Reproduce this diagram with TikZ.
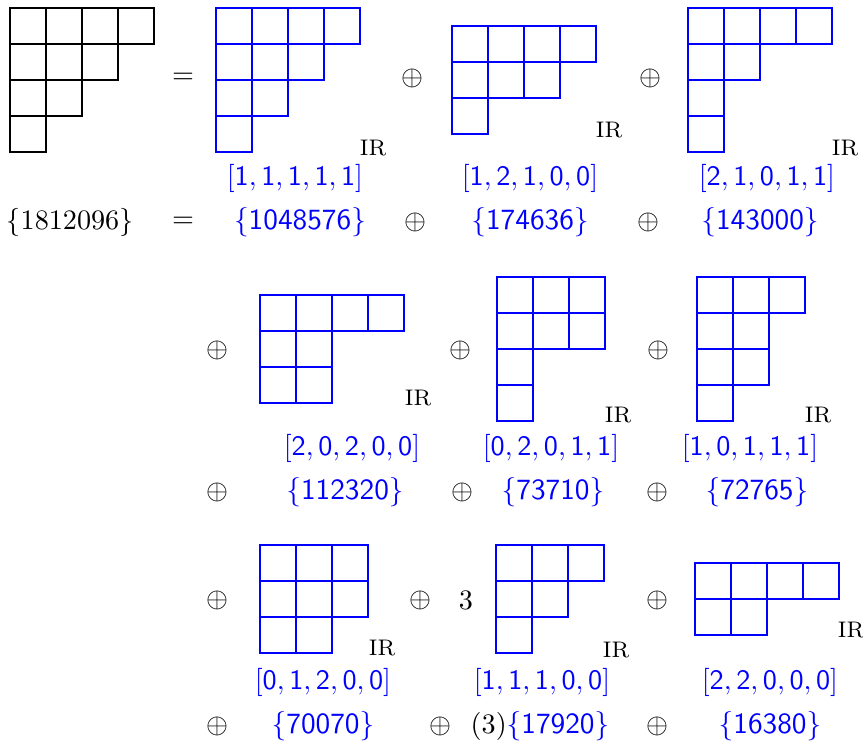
\documentclass[tikz,border=0pt]{standalone}
\usepackage{amsmath,amssymb}
\usepackage{xcolor}
\usepackage{tikz}
\usetikzlibrary{positioning}

% Young diagram: [colour] {left x}{top y}{row lengths}
\newcommand{\ydiag}[4][black]{%
  \foreach \rowlen [count=\row from 0] in {#4}
    \foreach \col in {1,...,\rowlen}
      \draw[#1] ({#2+36*(\col-1)},{#3+36*\row}) rectangle ++(36,36);
}

\begin{document}
\begin{tikzpicture}[x=0.355pt,y=-0.355pt,
  cellline/.style={line width=0.42pt},
  irrep/.style={cellline,draw=blue},
  irlab/.style={font=\footnotesize,inner sep=0pt},
  wlab/.style={text=blue,inner sep=0pt},
  dimlab/.style={text=blue,font=\fontsize{10.4}{12}\selectfont\sffamily,inner sep=0pt},
  oper/.style={inner sep=0pt}]
\useasboundingbox (0,0) rectangle (863,740);

% Diagrams
\ydiag[cellline]{10}{8}{4,3,2,1}
\ydiag[irrep]{216}{8}{4,3,2,1}
\ydiag[irrep]{452}{26}{4,3,1}
\ydiag[irrep]{688}{8}{4,2,1,1}
\ydiag[irrep]{260}{295}{4,2,2}
\ydiag[irrep]{497}{277}{3,3,1,1}
\ydiag[irrep]{697}{277}{3,2,2,1}
\ydiag[irrep]{260}{545}{3,3,2}
\ydiag[irrep]{496}{545}{3,2,1}
\ydiag[irrep]{695}{563}{4,2}

% IR marks
\foreach \name/\x/\y in {ir1/373/148, ir2/609/130, ir3/845/148,
                         ir4/418/398, ir5/618/415, ir6/818/415,
                         ir7/382/648, ir8/616/650, ir9/851/630}
   \node[irlab] (\name) at (\x,\y) {IR};

% Equal signs and direct sums
\node[oper] (eqA) at (183,78) {$=$};
\node[oper] (eqB) at (183,222) {$=$};
\foreach \name/\x/\y in {opA/412/78, opB/650/78, opC/415/222, opD/648/222,
                         opE/217/350, opF/460/350, opG/658/350,
                         opH/217/492, opI/462/492, opJ/657/492,
                         opK/217/600, opL/420/600, opM/657/600,
                         opN/217/726, opO/440/726, opP/657/726}
   \node[oper] (\name) at (\x,\y) {$\oplus$};
\node[oper] (mult) at (466,600) {3};

% Dynkin labels
\foreach \name/\x/\y/\w in {w1/295/178/{1,1,1,1,1}, w2/530/178/{1,2,1,0,0},
                            w3/767/178/{2,1,0,1,1}, w4/352/448/{2,0,2,0,0},
                            w5/551/448/{0,2,0,1,1}, w6/750/448/{1,0,1,1,1},
                            w7/323/682/{0,1,2,0,0}, w8/542/682/{1,1,1,0,0},
                            w9/770/682/{2,2,0,0,0}}
   \node[wlab] (\name) at (\x,\y) {$\mathsf{[\w]}$};

% Dimensions
\node[inner sep=0pt] (dtot) at (70,222) {$\{1812096\}$};
\foreach \name/\x/\y/\d in {d1/300/222/1048576, d2/530/222/174636,
                            d3/760/222/143000, d4/345/492/112320,
                            d5/553/492/73710, d6/757/492/72765,
                            d7/323/726/70070, d9/770/726/16380}
   \node[dimlab] (\name) at (\x,\y) {\{\d\}};
\node[inner sep=0pt] (d8) at (540,726) {(3)\textcolor{blue}{\fontsize{10.4}{12}\selectfont\sffamily\{17920\}}};
\end{tikzpicture}
\end{document}
